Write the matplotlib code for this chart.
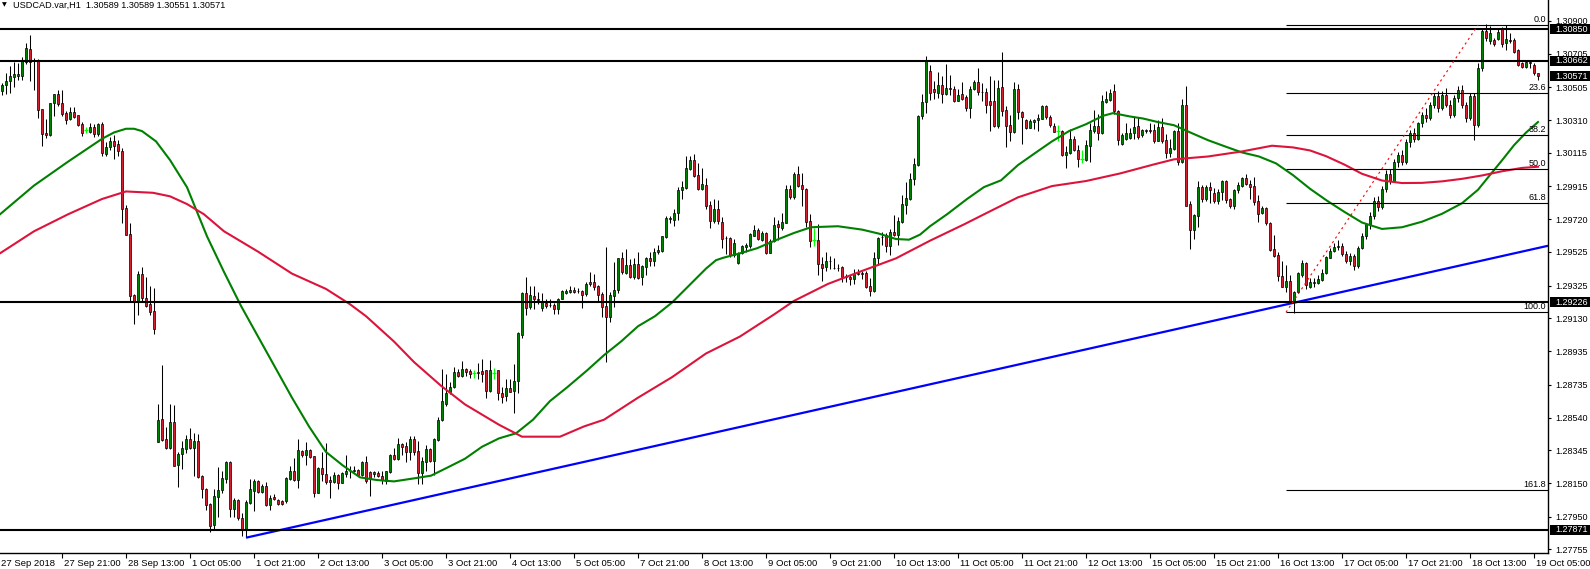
import matplotlib
matplotlib.use("Agg")
import matplotlib.pyplot as plt
import numpy as np
from matplotlib.patches import Rectangle
from matplotlib.transforms import ScaledTranslation, blended_transform_factory

plt.rcParams["font.family"] = ["Liberation Sans", "DejaVu Sans"]

# USDCAD H1 bars, prices in points (1e-5)
opens = [
    130480, 130517, 130545, 130565, 130571, 130573, 130658, 130733, 130668, 130664,
    130373, 130234, 130220, 130410, 130462, 130410, 130349, 130315, 130355, 130339,
    130286, 130250, 130240, 130268, 130224, 130287, 130109, 130147, 130183, 130165,
    130125, 129786, 129632, 129268, 129228, 129392, 129254, 129214, 129173, 128396,
    128533, 128410, 128359, 128511, 128258, 128323, 128355, 128410, 128359, 128402,
    128194, 128113, 128026, 127901, 128069, 128107, 128174, 128275, 127998, 128048,
    127945, 127871, 128032, 128103, 128163, 128097, 128133, 128022, 128069, 128052,
    128046, 128042, 128174, 128224, 128170, 128339, 128315, 128349, 128309, 128093,
    128238, 128204, 128169, 128159, 128198, 128153, 128204, 128224, 128222, 128228,
    128200, 128275, 128214, 128204, 128208, 128194, 128163, 128214, 128319, 128295,
    128380, 128369, 128335, 128410, 128339, 128210, 128275, 128351, 128281, 128406,
    128523, 128622, 128689, 128719, 128810, 128790, 128826, 128816, 128804, 128810,
    128816, 128820, 128695, 128804, 128820, 128685, 128668, 128713, 128699, 128759,
    129032, 129279, 129198, 129264, 129248, 129190, 129224, 129208, 129208, 129188,
    129248, 129281, 129285, 129299, 129295, 129295, 129275, 129349, 129349, 129325,
    129275, 129204, 129137, 129265, 129301, 129487, 129402, 129450, 129375, 129456,
    129375, 129436, 129491, 129473, 129527, 129531, 129614, 129721, 129715, 129755,
    129891, 129905, 130018, 130072, 129981, 129897, 129921, 129804, 129709, 129780,
    129703, 129610, 129608, 129507, 129460, 129517, 129557, 129561, 129622, 129658,
    129598, 129638, 129521, 129588, 129689, 129668, 129699, 129897, 129850, 129988,
    129921, 129901, 129709, 129598, 129598, 129456, 129436, 129471, 129432, 129428,
    129436, 129378, 129376, 129365, 129394, 129398, 129400, 129321, 129295, 129487,
    129612, 129628, 129561, 129642, 129624, 129705, 129806, 129840, 129957, 130042,
    130331, 130420, 130602, 130493, 130472, 130517, 130466, 130501, 130493, 130426,
    130462, 130446, 130379, 130493, 130537, 130478, 130476, 130422, 130422, 130274,
    130507, 130369, 130278, 130240, 130493, 130355, 130309, 130264, 130301, 130309,
    130319, 130396, 130325, 130274, 130244, 130244, 130099, 130113, 130198, 130133,
    130077, 130072, 130157, 130244, 130274, 130234, 130420, 130432, 130480, 130365,
    130169, 130200, 130204, 130230, 130274, 130218, 130244, 130248, 130248, 130188,
    130268, 130190, 130113, 130139, 130244, 130058, 130400, 129810, 129654, 129739,
    129911, 129840, 129911, 129876, 129830, 129880, 129947, 129840, 129800, 129891,
    129917, 129965, 129931, 129915, 129830, 129755, 129786, 129699, 129541, 129507,
    129382, 129319, 129351, 129234, 129285, 129390, 129460, 129315, 129343, 129341,
    129361, 129400, 129491, 129533, 129555, 129559, 129510, 129470, 129500, 129440,
    129550, 129620, 129690, 129740, 129830, 129790, 129900, 129990, 129950, 130060,
    130100, 130060, 130180, 130230, 130200, 130290, 130340, 130320, 130400, 130450,
    130380, 130460, 130400, 130340, 130440, 130490, 130400, 130320, 130450, 130280,
    130620, 130840, 130780, 130786, 130792, 130851, 130768, 130786, 130786, 130726,
    130649, 130625, 130655, 130637, 130589,
]
highs = [
    130531, 130588, 130632, 130654, 130648, 130684, 130771, 130816, 130678, 130672,
    130373, 130315, 130412, 130462, 130489, 130489, 130365, 130388, 130388, 130341,
    130299, 130268, 130295, 130285, 130295, 130299, 130177, 130208, 130220, 130194,
    130141, 129804, 129695, 129272, 129410, 129434, 129376, 129325, 129309, 128618,
    128850, 128483, 128618, 128614, 128335, 128402, 128436, 128477, 128446, 128440,
    128200, 128119, 128032, 128113, 128244, 128224, 128279, 128279, 128063, 128056,
    127972, 128048, 128174, 128174, 128167, 128143, 128159, 128077, 128083, 128056,
    128052, 128184, 128254, 128299, 128412, 128345, 128392, 128355, 128311, 128244,
    128335, 128386, 128194, 128214, 128204, 128214, 128315, 128250, 128254, 128234,
    128279, 128309, 128224, 128224, 128224, 128220, 128224, 128325, 128359, 128420,
    128386, 128392, 128432, 128432, 128400, 128305, 128376, 128359, 128416, 128541,
    128826, 128800, 128749, 128840, 128830, 128877, 128834, 128826, 128820, 128864,
    128887, 128824, 128885, 128834, 128824, 128719, 128769, 128769, 128856, 129046,
    129285, 129375, 129325, 129325, 129285, 129281, 129244, 129244, 129224, 129254,
    129299, 129305, 129321, 129315, 129309, 129301, 129345, 129406, 129392, 129331,
    129285, 129553, 129285, 129466, 129491, 129527, 129541, 129483, 129487, 129527,
    129446, 129497, 129527, 129547, 129567, 129622, 129739, 129739, 129779, 129911,
    129947, 130093, 130093, 130109, 130052, 130022, 129965, 129830, 129840, 129834,
    129735, 129618, 129612, 129602, 129523, 129567, 129577, 129638, 129685, 129668,
    129652, 129642, 129604, 129733, 129715, 129759, 129925, 129921, 129998, 130036,
    129992, 129905, 129749, 129668, 129689, 129493, 129523, 129501, 129491, 129456,
    129442, 129396, 129390, 129426, 129422, 129412, 129412, 129369, 129527, 129612,
    129642, 129638, 129664, 129745, 129733, 129864, 129941, 129992, 130083, 130339,
    130466, 130689, 130638, 130541, 130594, 130571, 130642, 130577, 130513, 130493,
    130537, 130456, 130511, 130551, 130622, 130531, 130501, 130571, 130547, 130547,
    130715, 130396, 130341, 130537, 130523, 130365, 130315, 130319, 130319, 130345,
    130400, 130400, 130341, 130295, 130280, 130248, 130153, 130254, 130214, 130163,
    130133, 130194, 130295, 130369, 130345, 130456, 130482, 130497, 130523, 130369,
    130230, 130291, 130264, 130325, 130325, 130254, 130258, 130295, 130285, 130309,
    130321, 130224, 130198, 130248, 130295, 130436, 130513, 129830, 129749, 129947,
    129921, 129921, 129941, 129907, 129897, 129951, 129951, 129844, 129901, 129941,
    129971, 129988, 129951, 129971, 129864, 129800, 129790, 129703, 129628, 129527,
    129470, 129446, 129386, 129295, 129406, 129476, 129466, 129369, 129369, 129386,
    129422, 129503, 129547, 129577, 129594, 129580, 129530, 129520, 129510, 129560,
    129640, 129700, 129760, 129850, 129860, 129920, 130010, 130020, 130080, 130120,
    130130, 130200, 130250, 130260, 130300, 130360, 130380, 130420, 130470, 130480,
    130480, 130500, 130430, 130460, 130510, 130520, 130420, 130470, 130470, 130650,
    130860, 130880, 130870, 130800, 130850, 130863, 130875, 130828, 130798, 130732,
    130655, 130661, 130661, 130649, 130589,
]
lows = [
    130456, 130466, 130472, 130507, 130547, 130551, 130644, 130543, 130491, 130321,
    130157, 130204, 130214, 130335, 130396, 130335, 130287, 130311, 130323, 130274,
    130214, 130234, 130234, 130208, 130214, 130097, 130093, 130133, 130080, 130097,
    129699, 129624, 129228, 129097, 129149, 129228, 129200, 129151, 129038, 128392,
    128402, 128355, 128355, 128250, 128127, 128234, 128329, 128355, 128194, 128180,
    128063, 127992, 127861, 127871, 127951, 128093, 128153, 127951, 127951, 127931,
    127836, 127830, 128028, 127982, 128093, 128089, 128012, 127992, 128048, 128018,
    128018, 128032, 128170, 128163, 128119, 128305, 128258, 128299, 128069, 128089,
    128163, 128143, 128063, 128153, 128113, 128149, 128184, 128182, 128214, 128194,
    128194, 128153, 128073, 128184, 128184, 128143, 128143, 128208, 128289, 128285,
    128319, 128275, 128289, 128315, 128147, 128143, 128220, 128275, 128198, 128400,
    128517, 128608, 128679, 128715, 128780, 128780, 128788, 128776, 128776, 128769,
    128749, 128658, 128689, 128769, 128644, 128624, 128638, 128689, 128567, 128685,
    129012, 129149, 129188, 129184, 129214, 129174, 129194, 129200, 129153, 129153,
    129244, 129275, 129281, 129281, 129281, 129194, 129265, 129325, 129301, 129234,
    129137, 128871, 129109, 129200, 129279, 129396, 129396, 129369, 129365, 129365,
    129331, 129386, 129442, 129442, 129511, 129527, 129608, 129699, 129678, 129713,
    129840, 129897, 130012, 129971, 129891, 129891, 129780, 129668, 129699, 129689,
    129551, 129511, 129497, 129497, 129456, 129511, 129527, 129547, 129618, 129598,
    129592, 129511, 129517, 129584, 129598, 129658, 129695, 129840, 129840, 129911,
    129800, 129672, 129557, 129561, 129390, 129351, 129412, 129422, 129426, 129410,
    129349, 129345, 129331, 129335, 129386, 129365, 129311, 129265, 129289, 129446,
    129568, 129527, 129507, 129618, 129567, 129699, 129749, 129836, 129921, 130038,
    130319, 130349, 130430, 130436, 130440, 130410, 130456, 130456, 130420, 130422,
    130432, 130365, 130321, 130487, 130456, 130426, 130349, 130244, 130268, 130264,
    130335, 130147, 130188, 130234, 130315, 130169, 130258, 130260, 130254, 130244,
    130315, 130315, 130268, 130238, 130188, 130093, 130022, 130109, 130127, 130032,
    130052, 130066, 130062, 130234, 130190, 130228, 130412, 130426, 130345, 130163,
    130163, 130194, 130198, 130198, 130198, 130210, 130234, 130234, 130173, 130184,
    130173, 130083, 130087, 130133, 130042, 130052, 129796, 129541, 129602, 129672,
    129824, 129830, 129814, 129814, 129810, 129834, 129816, 129786, 129780, 129875,
    129911, 129921, 129840, 129806, 129703, 129749, 129685, 129531, 129493, 129355,
    129315, 129285, 129220, 129163, 129281, 129376, 129305, 129309, 129319, 129335,
    129355, 129396, 129487, 129527, 129537, 129500, 129460, 129450, 129420, 129430,
    129540, 129600, 129660, 129720, 129770, 129780, 129880, 129930, 129940, 130030,
    130040, 130050, 130150, 130180, 130190, 130270, 130300, 130310, 130380, 130360,
    130370, 130390, 130320, 130330, 130420, 130380, 130300, 130310, 130190, 130270,
    130600, 130780, 130760, 130750, 130786, 130744, 130726, 130768, 130709, 130631,
    130619, 130619, 130619, 130578, 130551,
]
closes = [
    130517, 130545, 130569, 130581, 130581, 130668, 130739, 130658, 130662, 130371,
    130228, 130222, 130410, 130462, 130408, 130347, 130313, 130355, 130329, 130282,
    130234, 130250, 130268, 130224, 130287, 130113, 130149, 130183, 130157, 130123,
    129782, 129628, 129264, 129228, 129392, 129252, 129204, 129169, 129068, 128523,
    128406, 128359, 128511, 128254, 128325, 128357, 128410, 128359, 128402, 128184,
    128113, 128022, 127897, 128073, 128109, 128180, 128275, 127998, 128048, 127945,
    127871, 128036, 128117, 128163, 128097, 128133, 128018, 128063, 128057, 128028,
    128026, 128178, 128224, 128170, 128345, 128315, 128349, 128305, 128093, 128238,
    128204, 128159, 128157, 128198, 128153, 128208, 128224, 128220, 128226, 128200,
    128275, 128163, 128180, 128214, 128194, 128168, 128220, 128319, 128295, 128380,
    128365, 128335, 128412, 128335, 128210, 128279, 128351, 128281, 128410, 128527,
    128638, 128683, 128719, 128810, 128786, 128826, 128810, 128800, 128804, 128804,
    128796, 128695, 128820, 128804, 128683, 128664, 128713, 128693, 128759, 129042,
    129279, 129194, 129268, 129248, 129238, 129228, 129204, 129212, 129188, 129248,
    129291, 129295, 129299, 129289, 129291, 129268, 129335, 129335, 129319, 129268,
    129200, 129139, 129268, 129301, 129487, 129406, 129450, 129375, 129456, 129371,
    129442, 129491, 129473, 129527, 129537, 129618, 129729, 129725, 129759, 129891,
    129911, 130022, 130072, 129975, 129897, 129931, 129800, 129709, 129780, 129709,
    129604, 129606, 129507, 129578, 129521, 129563, 129567, 129632, 129658, 129604,
    129638, 129517, 129588, 129685, 129672, 129705, 129897, 129854, 129988, 129917,
    129901, 129705, 129588, 129598, 129456, 129430, 129470, 129474, 129428, 129432,
    129375, 129382, 129365, 129396, 129398, 129394, 129315, 129295, 129487, 129608,
    129616, 129561, 129642, 129624, 129709, 129810, 129844, 129957, 130048, 130335,
    130420, 130662, 130472, 130476, 130517, 130462, 130501, 130493, 130426, 130460,
    130436, 130379, 130493, 130537, 130476, 130474, 130402, 130400, 130274, 130501,
    130365, 130274, 130240, 130493, 130355, 130325, 130264, 130305, 130311, 130321,
    130396, 130325, 130278, 130240, 130244, 130099, 130119, 130198, 130133, 130077,
    130077, 130159, 130248, 130274, 130234, 130422, 130436, 130470, 130365, 130194,
    130220, 130234, 130234, 130268, 130208, 130248, 130248, 130244, 130188, 130268,
    130188, 130113, 130143, 130244, 130062, 130400, 129800, 129654, 129745, 129911,
    129840, 129911, 129895, 129830, 129880, 129947, 129836, 129800, 129895, 129921,
    129965, 129927, 129911, 129824, 129753, 129786, 129699, 129537, 129503, 129380,
    129319, 129355, 129228, 129289, 129400, 129460, 129331, 129345, 129347, 129365,
    129400, 129497, 129533, 129553, 129559, 129510, 129470, 129500, 129440, 129550,
    129620, 129690, 129740, 129830, 129790, 129900, 129990, 129950, 130060, 130100,
    130060, 130180, 130230, 130200, 130290, 130340, 130320, 130400, 130450, 130380,
    130460, 130400, 130340, 130440, 130490, 130400, 130320, 130450, 130280, 130620,
    130840, 130800, 130830, 130762, 130834, 130762, 130792, 130782, 130715, 130637,
    130625, 130655, 130651, 130590, 130571,
]

# moving averages, sampled by bar index
green_bars = [-0.5, 8, 16.5, 25, 28, 31, 33, 35, 38.5, 42, 46.25, 51.25, 55.5, 59.75, 64,
              68.25, 72.5, 76.75, 81, 85.25, 89.5, 93.75, 98, 103, 107.25, 111.5, 115.75,
              120, 124.25, 128.5, 132.75, 137, 141.25, 146.25, 150.5, 154.75, 159, 163.25,
              167.5, 171.75, 176, 178.5, 180.25, 184.5, 188.75, 193.75, 198, 202.25, 209,
              215, 219.25, 223.5, 226.75, 229.5, 232, 236.25, 241.25, 245.5, 249.75, 254,
              258.25, 262.5, 266.75, 271, 275.25, 277.75, 282, 285.25, 288.75, 293, 297.25,
              301.5, 305.75, 310, 314.25, 318.5, 322.75, 327, 331.25, 335.5, 340, 345, 350,
              355, 360, 365, 369, 372, 375, 378, 381, 384]
green_ma = [1.29749, 1.29920, 1.30062, 1.30198, 1.30236, 1.30258, 1.30258, 1.30244, 1.30183,
            1.30072, 1.29910, 1.29618, 1.29406, 1.29204, 1.29022, 1.28840, 1.28658, 1.28487,
            1.28335, 1.28254, 1.28184, 1.28168, 1.28160, 1.28178, 1.28194, 1.28244, 1.28295,
            1.28366, 1.28416, 1.28446, 1.28527, 1.28638, 1.28719, 1.28820, 1.28911, 1.28992,
            1.29083, 1.29143, 1.29224, 1.29325, 1.29426, 1.29476, 1.29490, 1.29517, 1.29547,
            1.29598, 1.29638, 1.29672, 1.29678, 1.29658, 1.29634, 1.29602, 1.29598, 1.29628,
            1.29678, 1.29749, 1.29840, 1.29911, 1.29951, 1.30042, 1.30113, 1.30183, 1.30244,
            1.30285, 1.30335, 1.30351, 1.30331, 1.30319, 1.30299, 1.30279, 1.30234, 1.30190,
            1.30153, 1.30117, 1.30093, 1.30052, 1.29982, 1.29901, 1.29830, 1.29765, 1.29700,
            1.29662, 1.29672, 1.29705, 1.29752, 1.29815, 1.29895, 1.29983, 1.30070, 1.30160,
            1.30235, 1.30298]
red_bars = [-0.5, 8, 16.5, 25, 31, 37.75, 42, 46.25, 50.5, 55.5, 64, 72.5, 81, 87, 91, 98,
            103, 109.75, 115.75, 124.25, 130, 139.5, 145.5, 150.5, 159, 167.5, 176, 184.5,
            193, 198, 206.5, 215, 223.5, 232, 240.5, 245.5, 254, 262.5, 271, 279.5, 288,
            293, 301.5, 310, 317.5, 322.75, 327, 331, 335.5, 340, 345, 350, 355, 360, 365,
            370, 375, 380, 384]
red_ma = [1.29517, 1.29648, 1.29749, 1.29840, 1.29885, 1.29877, 1.29856, 1.29810, 1.29749,
          1.29648, 1.29527, 1.29396, 1.29305, 1.29214, 1.29143, 1.28992, 1.28870, 1.28729,
          1.28618, 1.28497, 1.28426, 1.28426, 1.28487, 1.28527, 1.28658, 1.28780, 1.28921,
          1.29022, 1.29153, 1.29234, 1.29335, 1.29412, 1.29487, 1.29592, 1.29689, 1.29749,
          1.29850, 1.29917, 1.29947, 1.29992, 1.30046, 1.30076, 1.30093, 1.30123, 1.30157,
          1.30147, 1.30129, 1.30095, 1.30046, 1.29990, 1.29950, 1.29935, 1.29936, 1.29945,
          1.29960, 1.29980, 1.30005, 1.30025, 1.30032]

level_prices = [1.30850, 1.30662, 1.29226, 1.27871]
bid_price = 1.30571
trend_bars = [61, 323]
trend_prices = [1.27825, 1.29223]
fib_bars = [321, 369]
fib_prices = [1.29166, 1.30875]
fib_levels = [0.0, 23.6, 38.2, 50.0, 61.8, 100.0, 161.8]

price_ticks = [1.30900, 1.30705, 1.30505, 1.30310, 1.30115, 1.29915, 1.29720, 1.29525,
               1.29325, 1.29130, 1.28935, 1.28735, 1.28540, 1.28345, 1.28150, 1.27950,
               1.27755]
time_bars = [15, 31, 47, 63, 79, 95, 111, 127, 143, 159, 175, 191, 207, 223, 239, 255,
             271, 287, 303, 319, 335, 351, 367, 383]
time_labels = ["27 Sep 21:00", "28 Sep 13:00", "1 Oct 05:00", "1 Oct 21:00", "2 Oct 13:00",
               "3 Oct 05:00", "3 Oct 21:00", "4 Oct 13:00", "5 Oct 05:00", "7 Oct 21:00",
               "8 Oct 13:00", "9 Oct 05:00", "9 Oct 21:00", "10 Oct 13:00", "11 Oct 05:00",
               "11 Oct 21:00", "12 Oct 13:00", "15 Oct 05:00", "15 Oct 21:00", "16 Oct 13:00",
               "17 Oct 05:00", "17 Oct 21:00", "18 Oct 13:00", "19 Oct 05:00"]
first_label = "27 Sep 2018"
title = "USDCAD.var,H1  1.30589 1.30589 1.30551 1.30571"

BULL = "#008000"
BEAR = "#d2202e"
FS = 6.5
FS_X = 6.8

o = np.array(opens) / 1e5
h = np.array(highs) / 1e5
l = np.array(lows) / 1e5
c = np.array(closes) / 1e5
x = np.arange(len(o))

fig = plt.figure(figsize=(15.9, 5.69), dpi=100)
ax = fig.add_axes([0, 16 / 569, 1548 / 1590, 553 / 569])
ax.set_xlim(-0.5, 386.5)
ax.set_ylim(1.27734, 1.31024)
blend = blended_transform_factory(ax.transAxes, ax.transData)

# candles
up = c > o
dn = c < o
dj = c == o
ax.vlines(x[~dj], l[~dj], h[~dj], color="black", lw=0.75, zorder=3)
ax.vlines(x[dj], l[dj], h[dj], color="#00ff00", lw=0.9, zorder=3)
ax.hlines(c[dj], x[dj] - 0.4, x[dj] + 0.4, color="#00ff00", lw=0.9, zorder=3)
ax.bar(x[up], (c - o)[up], bottom=o[up], width=0.72, color=BULL,
       edgecolor="black", lw=0.5, zorder=4)
ax.bar(x[dn], (o - c)[dn], bottom=c[dn], width=0.72, color=BEAR,
       edgecolor="black", lw=0.5, zorder=4)

# indicators
ax.plot(green_bars, green_ma, color="#008000", lw=1.5, zorder=5)
ax.plot(red_bars, red_ma, color="#dc143c", lw=1.5, zorder=5)

slope = (trend_prices[1] - trend_prices[0]) / (trend_bars[1] - trend_bars[0])
x_end = ax.get_xlim()[1]
ax.plot([trend_bars[0], x_end],
        [trend_prices[0], trend_prices[0] + slope * (x_end - trend_bars[0])],
        color="#0000ff", lw=1.6, zorder=6, solid_capstyle="butt")

for v in level_prices:
    ax.axhline(v, color="black", lw=1.5, zorder=6)

# fibonacci retracement
fib_range = fib_prices[1] - fib_prices[0]
for lvl in fib_levels:
    p = fib_prices[1] - lvl / 100 * fib_range
    ax.hlines(p, fib_bars[0], x_end, color="black", lw=0.8, zorder=6)
    ax.annotate(f"{lvl:.1f}", xy=(1, p), xycoords=blend, xytext=(-1.5, 0.6),
                textcoords="offset points", ha="right", va="bottom", fontsize=FS, zorder=7)
ax.plot(fib_bars, fib_prices, color="red", lw=0.8, ls=(0, (2, 3)), zorder=6)

# axes styling
for side in ["left", "top"]:
    ax.spines[side].set_visible(False)
for side in ["right", "bottom"]:
    ax.spines[side].set_linewidth(1.0)
ax.yaxis.tick_right()
ax.set_yticks(price_ticks, [f"{v:.5f}" for v in price_ticks])
ax.tick_params(axis="y", direction="out", length=2.2, width=0.8, pad=3.2, labelsize=FS)
ax.set_xticks(time_bars, time_labels)
ax.tick_params(axis="x", direction="out", length=3.5, width=0.8, pad=0.8, labelsize=FS_X)
shift = ScaledTranslation(2 / 100, 0, fig.dpi_scale_trans)
for lbl in ax.get_xticklabels():
    lbl.set_horizontalalignment("left")
    lbl.set_transform(lbl.get_transform() + shift)

ax.annotate(first_label, xy=(0, 0), xycoords="axes fraction", xytext=(0.5, -4.3),
            textcoords="offset points", ha="left", va="top", fontsize=FS_X)

# price boxes on the scale
box_h = 10 * (ax.get_ylim()[1] - ax.get_ylim()[0]) / 553
for v in level_prices + [bid_price]:
    ax.add_patch(Rectangle((1.0015, v - box_h / 2), 0.0255, box_h, transform=blend,
                           facecolor="black", edgecolor="none", clip_on=False, zorder=10))
    ax.annotate(f"{v:.5f}", xy=(1, v), xycoords=blend, xytext=(5.4, 0),
                textcoords="offset points", ha="left", va="center", fontsize=FS,
                color="white", zorder=11, annotation_clip=False)

# title
ax.annotate("\u25bc", xy=(0, 1), xycoords="axes fraction", xytext=(1.2, -3.6),
            textcoords="offset points", ha="left", va="center", fontsize=4.5,
            family="DejaVu Sans")
ax.annotate(title, xy=(0, 1), xycoords="axes fraction", xytext=(9.4, -3.6),
            textcoords="offset points", ha="left", va="center", fontsize=6.6)

fig.savefig("out.png", dpi=100)
